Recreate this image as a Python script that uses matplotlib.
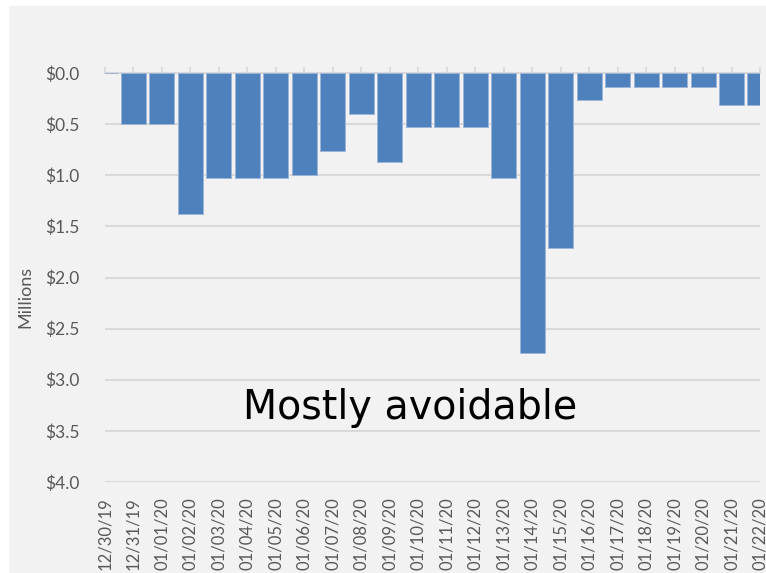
import matplotlib
matplotlib.use("Agg")
import matplotlib.pyplot as plt
from matplotlib.patches import Rectangle
from matplotlib.ticker import FuncFormatter, MultipleLocator

dates = ["12/30/19", "12/31/19", "01/01/20", "01/02/20", "01/03/20", "01/04/20",
         "01/05/20", "01/06/20", "01/07/20", "01/08/20", "01/09/20", "01/10/20",
         "01/11/20", "01/12/20", "01/13/20", "01/14/20", "01/15/20", "01/16/20",
         "01/17/20", "01/18/20", "01/19/20", "01/20/20", "01/21/20", "01/22/20"]
values = [0.0, 0.50, 0.50, 1.38, 1.03, 1.03, 1.03, 1.00, 0.76, 0.40, 0.87, 0.53,
          0.53, 0.53, 1.03, 2.74, 1.71, 0.26, 0.14, 0.14, 0.14, 0.14, 0.31, 0.31]

W, H = 766, 573
fig = plt.figure(figsize=(W / 100, H / 100), dpi=100)
fig.patch.set_facecolor("white")
fig.patches.append(Rectangle((9 / W, 0), 1 - 9 / W, 1 - 6 / H, transform=fig.transFigure,
                             facecolor="#f2f2f2", edgecolor="none", zorder=-10))

ax = fig.add_axes([105 / W, 1 - 482 / H, (760 - 105) / W, (482 - 73) / H])
ax.set_zorder(1)
ax.set_facecolor("none")

x = list(range(len(dates)))
ax.bar(x, values, width=0.88, color="#4f81bd", edgecolor="#9db5d9", linewidth=0.7, zorder=3)

ax.set_xlim(0, len(dates) - 1)
ax.set_ylim(4.0, 0.0)
ax.yaxis.set_major_locator(MultipleLocator(0.5))
ax.yaxis.set_major_formatter(FuncFormatter(lambda v, p: f"${v:.1f}"))
ax.grid(axis="y", color="#d9d9d9", linewidth=1.5, zorder=0)
ax.set_axisbelow(True)

for s in ["left", "right", "bottom"]:
    ax.spines[s].set_visible(False)
ax.spines["top"].set_color("#d9d9d9")
ax.spines["top"].set_linewidth(1.5)

ax.set_xticks(x)
ax.set_xticklabels(dates, rotation=90, fontfamily="Lato", fontsize=12, color="#595959")
ax.tick_params(axis="x", top=True, bottom=False, labeltop=False, labelbottom=True,
               direction="out", length=4, width=1.2, color="#d9d9d9", pad=7)
ax.tick_params(axis="y", left=False, pad=15, labelsize=12.5, labelcolor="#595959")
for lab in ax.get_yticklabels():
    lab.set_fontfamily("Lato")

fig.text(25 / W, 1 - 297 / H, "Millions", rotation=90, ha="center", va="center",
         fontfamily="Lato", fontsize=13, color="#595959")
fig.text(410 / W, 1 - 408 / H, "Mostly avoidable", ha="center", va="center",
         fontfamily="DejaVu Sans", fontsize=28.5, color="black")

fig.savefig("out.png", dpi=100)
